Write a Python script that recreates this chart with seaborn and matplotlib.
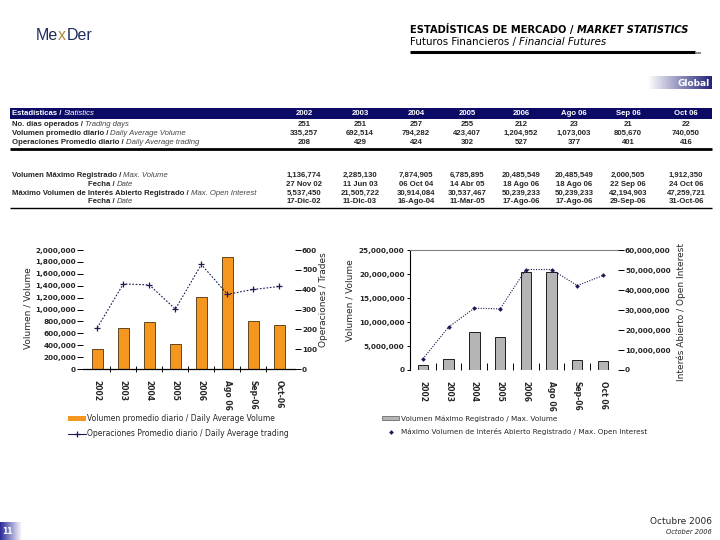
import numpy as np
import pandas as pd
import matplotlib
matplotlib.use("Agg")
import matplotlib.pyplot as plt
import seaborn as sns
from matplotlib.lines import Line2D
from matplotlib.patches import Patch, Rectangle
from matplotlib.colors import LinearSegmentedColormap
from matplotlib.ticker import FuncFormatter, FixedLocator

# ---------------- data ----------------
periods = ["2002", "2003", "2004", "2005", "2006", "Ago 06", "Sep 06", "Oct 06"]
tick_labels = ["2002", "2003", "2004", "2005", "2006", "Ago 06", "Sep-06", "Oct-06"]
tick_labels_r = ["2002", "2003", "2004", "2005", "2006", "Ago 06", "Sep-06", "Oct 06"]

trading_days = ["251", "251", "257", "255", "212", "23", "21", "22"]
avg_volume_tbl = ["335,257", "692,514", "794,282", "423,407", "1,204,952", "1,073,003", "805,670", "740,050"]
avg_trading_tbl = ["208", "429", "424", "302", "527", "377", "401", "416"]
max_volume_tbl = ["1,136,774", "2,285,130", "7,874,905", "6,785,895", "20,485,549", "20,485,549", "2,000,505", "1,912,350"]
max_volume_date = ["27 Nov 02", "11 Jun 03", "06 Oct 04", "14 Abr 05", "18 Ago 06", "18 Ago 06", "22 Sep 06", "24 Oct 06"]
max_oi_tbl = ["5,537,450", "21,505,722", "30,914,084", "30,537,467", "50,239,233", "50,239,233", "42,194,903", "47,259,721"]
max_oi_date = ["17-Dic-02", "11-Dic-03", "16-Ago-04", "11-Mar-05", "17-Ago-06", "17-Ago-06", "29-Sep-06", "31-Oct-06"]

# values
avg_volume_bars = [335257, 692514, 794282, 423407, 1204952, 1880000, 805670, 740050]
avg_trades = [208, 429, 424, 302, 527, 377, 401, 416]
max_volume = [1136774, 2285130, 7874905, 6785895, 20485549, 20485549, 2000505, 1912350]
max_oi = [5537450, 21505722, 30914084, 30537467, 50239233, 50239233, 42194903, 47259721]

left_yticks = list(range(0, 2000001, 200000))
left_y2ticks = list(range(0, 601, 100))
right_yticks = list(range(0, 25000001, 5000000))
right_y2ticks = list(range(0, 60000001, 10000000))

# ---------------- style ----------------
sns.set_theme(style="white")
plt.rcParams["font.family"] = ["DejaVu Sans"]
NAVY = "#0b0b66"
LINE_NAVY = "#1a1a55"
ORANGE = "#f5961e"
GRAY = "#b5b5b5"
TBL_FONT = ["Liberation Sans Narrow", "Liberation Sans", "DejaVu Sans"]
TBL_FS = 5.6

W, H = 720, 540
fig = plt.figure(figsize=(7.2, 5.4), dpi=100)
fig.patch.set_facecolor("white")
renderer = fig.canvas.get_renderer()


def box(l, t, r, b):
    return [l / W, 1 - b / H, (r - l) / W, (b - t) / H]


def T(x, y, s, **kw):
    kw.setdefault("va", "center")
    return fig.text(x / W, 1 - y / H, s, **kw)


def chain(x, y, parts, **common):
    cur = x / W
    for s, kw in parts:
        opts = dict(common)
        opts.update(kw)
        t = fig.text(cur, 1 - y / H, s, va="center", ha="left", **opts)
        bb = t.get_window_extent(renderer=renderer)
        cur = bb.x1 / W
    return cur


def hline(x0, x1, y, lw, color="black"):
    fig.add_artist(Line2D([x0 / W, x1 / W], [1 - y / H, 1 - y / H], transform=fig.transFigure,
                          color=color, lw=lw, solid_capstyle="butt"))


# ---------------- header ----------------
chain(36, 36, [("Me", dict(color="#1f2d5c")), ("x", dict(color="#b08a3a")), ("Der", dict(color="#1f2d5c"))],
      fontsize=11.5, family=TBL_FONT)
chain(410, 30, [("ESTADÍSTICAS DE MERCADO / ", dict(weight="bold")),
                ("MARKET STATISTICS", dict(weight="bold", style="italic"))], fontsize=7.1, color="black")
chain(410, 42, [("Futuros Financieros / ", {}), ("Financial Futures", dict(style="italic"))], fontsize=7.4,
      color="black")
hline(410, 695, 52, 2.2)
hline(695, 701, 53, 1.2, color="#777777")

# Global tag with gradient
axg = fig.add_axes(box(648, 76, 712, 89))
grad = np.linspace(0, 1, 256).reshape(1, -1)
axg.imshow(grad, aspect="auto", cmap=LinearSegmentedColormap.from_list("g", ["white", "#22227a"]))
axg.axis("off")
axg.text(0.96, 0.45, "Global", transform=axg.transAxes, ha="right", va="center", color="white",
         fontsize=6.5, weight="bold")

# ---------------- table ----------------
col_x = [304, 360, 416, 467, 521, 574, 628, 686]
fig.add_artist(Rectangle((10 / W, 1 - 119 / H), 702 / W, 11 / H, transform=fig.transFigure,
                         facecolor=NAVY, edgecolor="none"))
chain(12, 113.5, [("Estadísticas / ", dict(weight="bold")), ("Statistics", dict(style="italic"))],
      fontsize=TBL_FS, color="white", family=TBL_FONT)
for cx, p in zip(col_x, periods):
    T(cx, 113.5, p, ha="center", fontsize=TBL_FS, color="white", weight="bold", family=TBL_FONT)

rows1 = [
    (("No. días operados / ", "Trading days"), trading_days, 124.5),
    (("Volumen promedio diario / ", "Daily Average Volume"), avg_volume_tbl, 133.5),
    (("Operaciones Promedio diario / ", "Daily Average trading"), avg_trading_tbl, 142.5),
]
for (es, en), vals, yy in rows1:
    chain(12, yy, [(es, dict(weight="bold")), (en, dict(style="italic", color="#444444"))],
          fontsize=TBL_FS, family=TBL_FONT)
    for cx, v in zip(col_x, vals):
        T(cx, yy, v, ha="center", fontsize=TBL_FS, weight="bold", family=TBL_FONT)
hline(10, 712, 148.5, 2.0)

rows2 = [
    (12, ("Volumen Máximo Registrado / ", "Max. Volume"), max_volume_tbl, 175.5),
    (88, ("Fecha / ", "Date"), max_volume_date, 184.5),
    (12, ("Máximo Volumen de Interés Abierto Registrado / ", "Max. Open Interest"), max_oi_tbl, 193.5),
    (88, ("Fecha / ", "Date"), max_oi_date, 202),
]
for x0, (es, en), vals, yy in rows2:
    chain(x0, yy, [(es, dict(weight="bold")), (en, dict(style="italic", color="#444444"))],
          fontsize=TBL_FS, family=TBL_FONT)
    for cx, v in zip(col_x, vals):
        T(cx, yy, v, ha="center", fontsize=TBL_FS, weight="bold", family=TBL_FONT)
hline(10, 712, 207.5, 1.0)

# ---------------- charts ----------------
df = pd.DataFrame({"periodo": periods, "vol": avg_volume_bars, "ops": avg_trades,
                   "maxvol": max_volume, "maxoi": max_oi})
pos = np.arange(len(periods))
comma = FuncFormatter(lambda v, p: f"{int(v):,}")
TICKFS = 5.2

# Left chart
ax1 = fig.add_axes(box(83, 250, 295, 369))
sns.barplot(data=df, x="periodo", y="vol", ax=ax1, color=ORANGE, saturation=1, width=0.42,
            edgecolor="#4a3210", linewidth=0.6)
ax1.set_ylim(0, 2000000)
ax1.yaxis.set_major_locator(FixedLocator(left_yticks))
ax1.yaxis.set_major_formatter(comma)
ax1b = ax1.twinx()
sns.lineplot(x=pos, y=df["ops"].values, ax=ax1b, color=LINE_NAVY, linewidth=0.8,
             linestyle=(0, (1.5, 1.5)), marker="+", markersize=5, markeredgewidth=0.9,
             markeredgecolor=LINE_NAVY)
ax1b.set_ylim(0, 600)
ax1b.yaxis.set_major_locator(FixedLocator(left_y2ticks))
for a in (ax1, ax1b):
    a.set_xlim(-0.55, 7.6)
    a.set_xlabel("")
    a.set_ylabel("")
    a.set_facecolor("none")
    for s in a.spines.values():
        s.set_visible(False)
ax1.spines["bottom"].set_visible(True)
ax1.spines["bottom"].set_color("black")
ax1.spines["bottom"].set_linewidth(0.9)
ax1.set_xticks(pos)
ax1.set_xticklabels(tick_labels, rotation=270, fontsize=TICKFS + 0.3, weight="bold")
ax1.xaxis.set_minor_locator(FixedLocator(pos[:-1] + 0.5))
ax1.tick_params(axis="x", which="major", length=0, pad=8)
ax1.tick_params(axis="x", which="minor", bottom=True, length=5, width=0.7, direction="inout", color="black")
ax1.tick_params(axis="y", left=True, length=4, width=0.7, color="black", pad=1, labelsize=TICKFS)
ax1b.tick_params(axis="y", right=True, length=4, width=0.7, color="black", pad=1, labelsize=TICKFS)
for lab in ax1.get_yticklabels() + ax1b.get_yticklabels():
    lab.set_fontweight("bold")

T(28, 308, "Volumen / Volume", rotation=90, ha="center", fontsize=6.5)
T(323, 300, "Operaciones / Trades", rotation=90, ha="center", fontsize=6.5)

fig.legend(handles=[Patch(facecolor=ORANGE, edgecolor="none"),
                    Line2D([], [], color=LINE_NAVY, lw=0.8, marker="+", markersize=5, mew=0.9)],
           labels=["Volumen promedio diario / Daily Average Volume",
                   "Operaciones Promedio diario / Daily Average trading"],
           loc="upper left", bbox_to_anchor=(68 / W, 1 - 414 / H), frameon=False, fontsize=5.5,
           handlelength=2.3, handleheight=0.6, handletextpad=0.2, labelspacing=0.8, borderpad=0,
           borderaxespad=0)

# Right chart
ax2 = fig.add_axes(box(410, 250, 618, 370))
sns.barplot(data=df, x="periodo", y="maxvol", ax=ax2, color=GRAY, saturation=1, width=0.4,
            edgecolor="black", linewidth=0.6)
ax2.set_ylim(0, 25000000)
ax2.yaxis.set_major_locator(FixedLocator(right_yticks))
ax2.yaxis.set_major_formatter(comma)
ax2b = ax2.twinx()
sns.lineplot(x=pos, y=df["maxoi"].values, ax=ax2b, color=LINE_NAVY, linewidth=0.8,
             linestyle=(0, (1, 1.3)), marker="D", markersize=2.4, markeredgewidth=0,
             markerfacecolor=LINE_NAVY)
ax2b.set_ylim(0, 60000000)
ax2b.yaxis.set_major_locator(FixedLocator(right_y2ticks))
ax2b.yaxis.set_major_formatter(comma)
for a in (ax2, ax2b):
    a.set_xlim(-0.5, 7.58)
    a.set_xlabel("")
    a.set_ylabel("")
    a.set_facecolor("none")
    for s in a.spines.values():
        s.set_visible(False)
ax2.spines["left"].set_visible(True)
ax2.spines["left"].set_color("black")
ax2.spines["left"].set_linewidth(0.8)
ax2.spines["top"].set_visible(True)
ax2.spines["top"].set_color("#808080")
ax2.spines["top"].set_linewidth(0.8)
ax2.set_xticks(pos)
ax2.set_xticklabels(tick_labels_r, rotation=270, fontsize=TICKFS + 0.3, weight="bold")
ax2.xaxis.set_minor_locator(FixedLocator(pos[:-1] + 0.5))
ax2.tick_params(axis="x", which="major", length=0, pad=8)
ax2.tick_params(axis="x", which="minor", bottom=True, length=5, width=0.7, direction="in", color="black")
ax2.tick_params(axis="y", left=True, length=2, width=0.7, color="black", pad=2, labelsize=TICKFS)
ax2b.tick_params(axis="y", right=True, length=4, width=0.7, color="black", pad=1, labelsize=TICKFS)
for lab in ax2.get_yticklabels() + ax2b.get_yticklabels():
    lab.set_fontweight("bold")

T(350, 300, "Volumen / Volume", rotation=90, ha="center", fontsize=6.5)
T(681, 312, "Interés Abierto / Open Interest", rotation=90, ha="center", fontsize=6.5)

fig.legend(handles=[Patch(facecolor=GRAY, edgecolor="#555555", linewidth=0.5),
                    Line2D([], [], color=LINE_NAVY, lw=0, marker="D", markersize=2.4, mew=0)],
           labels=["Volumen Máximo Registrado / Max. Volume",
                   "Máximo Volumen de Interés Abierto Registrado / Max. Open Interest"],
           loc="upper left", bbox_to_anchor=(382 / W, 1 - 415 / H), frameon=False, fontsize=5.2,
           handlelength=2.4, handleheight=0.6, handletextpad=0.2, labelspacing=0.95, borderpad=0,
           borderaxespad=0)

# ---------------- footer ----------------
T(712, 521.5, "Octubre 2006", ha="right", fontsize=6.5)
T(712, 532.5, "October 2006", ha="right", fontsize=4.8, style="italic")
axp = fig.add_axes(box(0, 522, 22, 540))
axp.imshow(grad, aspect="auto", cmap=LinearSegmentedColormap.from_list("p", ["#2a2a99", "white"]))
axp.axis("off")
axp.text(0.35, 0.5, "11", transform=axp.transAxes, ha="center", va="center", color="white",
         fontsize=5.5, weight="bold")

fig.savefig("out.png", dpi=100)
